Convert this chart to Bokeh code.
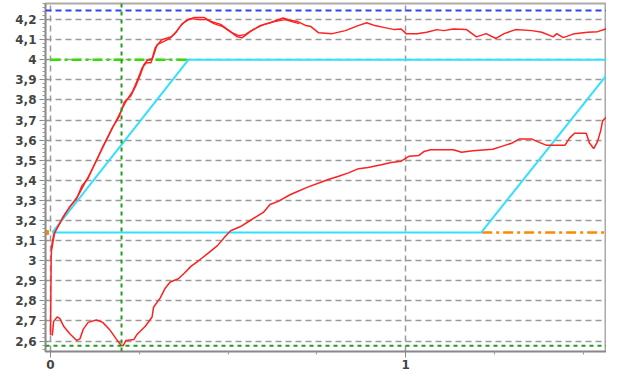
import numpy as np
from bokeh.plotting import figure
from bokeh.models import FixedTicker, Range1d, Span
from bokeh.embed import file_html
from bokeh.resources import INLINE

# ---------------- data ----------------
curve_a_x = [0.000, 0.002, 0.004, 0.009, 0.033, 0.055, 0.074, 0.088, 0.106, 0.124, 0.138, 0.157,
             0.175, 0.184, 0.194, 0.208, 0.226, 0.240, 0.253, 0.263, 0.272, 0.286, 0.295, 0.313,
             0.341, 0.355, 0.369, 0.387, 0.406, 0.433, 0.452, 0.479, 0.503, 0.526, 0.540, 0.562,
             0.590, 0.618, 0.655, 0.673, 0.696, 0.719, 0.733, 0.755, 0.793, 0.830, 0.866, 0.890,
             0.913, 0.941, 0.968, 0.987, 1.001, 1.032, 1.059, 1.088, 1.107, 1.134, 1.171, 1.199,
             1.226, 1.254, 1.277, 1.309, 1.355, 1.383, 1.415, 1.425, 1.443, 1.475, 1.512, 1.540,
             1.563, 1.572, 1.581]
curve_a_y = [2.63, 3.02, 3.08, 3.13, 3.21, 3.27, 3.31, 3.37, 3.41, 3.48, 3.53, 3.60,
             3.665, 3.69, 3.72, 3.79, 3.82, 3.87, 3.925, 3.975, 3.996, 4.005, 4.06, 4.10,
             4.115, 4.14, 4.176, 4.20, 4.21, 4.21, 4.19, 4.176, 4.145, 4.114, 4.11, 4.14,
             4.17, 4.184, 4.208, 4.197, 4.19, 4.17, 4.165, 4.134, 4.13, 4.145, 4.17, 4.184,
             4.17, 4.16, 4.15, 4.153, 4.13, 4.13, 4.137, 4.15, 4.145, 4.153, 4.15, 4.114,
             4.13, 4.106, 4.13, 4.15, 4.145, 4.137, 4.114, 4.13, 4.11, 4.13, 4.137, 4.14,
             4.153, 4.176, 4.215]

curve_a2_x = [0.004, 0.012, 0.040, 0.060, 0.080, 0.095, 0.110, 0.130, 0.145, 0.160, 0.180, 0.200,
              0.215, 0.230, 0.245, 0.258, 0.270, 0.283, 0.292, 0.300, 0.318, 0.335, 0.350, 0.362,
              0.378, 0.395, 0.420, 0.440, 0.460, 0.485, 0.510, 0.530, 0.548, 0.570, 0.600, 0.630,
              0.660, 0.680, 0.700]
curve_a2_y = [3.06, 3.14, 3.23, 3.28, 3.33, 3.38, 3.43, 3.50, 3.56, 3.61, 3.68, 3.75,
              3.80, 3.84, 3.90, 3.96, 3.985, 3.985, 4.03, 4.075, 4.09, 4.105, 4.13, 4.16,
              4.19, 4.205, 4.20, 4.20, 4.18, 4.165, 4.135, 4.12, 4.125, 4.15, 4.175, 4.19,
              4.20, 4.19, 4.18]

curve_b_x = [0.005, 0.009, 0.019, 0.026, 0.037, 0.055, 0.074, 0.083, 0.092, 0.106, 0.129, 0.147,
             0.166, 0.185, 0.198, 0.205, 0.212, 0.235, 0.244, 0.267, 0.286, 0.290, 0.309, 0.323,
             0.337, 0.360, 0.378, 0.396, 0.415, 0.443, 0.470, 0.493, 0.507, 0.535, 0.562, 0.599,
             0.618, 0.641, 0.673, 0.692, 0.724, 0.761, 0.784, 0.811, 0.839, 0.867, 0.894, 0.931,
             0.959, 0.987, 1.010, 1.037, 1.051, 1.070, 1.134, 1.157, 1.189, 1.245, 1.272, 1.300,
             1.319, 1.355, 1.374, 1.397, 1.448, 1.461, 1.475, 1.508, 1.517, 1.529, 1.540, 1.549,
             1.554, 1.568, 1.581]
curve_b_y = [2.627, 2.698, 2.72, 2.713, 2.674, 2.635, 2.603, 2.611, 2.658, 2.693, 2.705, 2.693,
             2.658, 2.611, 2.58, 2.577, 2.603, 2.608, 2.634, 2.674, 2.72, 2.768, 2.815, 2.863,
             2.894, 2.91, 2.94, 2.973, 2.997, 3.036, 3.075, 3.123, 3.149, 3.17, 3.20, 3.24,
             3.28, 3.295, 3.327, 3.342, 3.366, 3.39, 3.405, 3.42, 3.437, 3.458, 3.464, 3.477,
             3.489, 3.495, 3.52, 3.524, 3.543, 3.552, 3.552, 3.54, 3.547, 3.555, 3.57, 3.586,
             3.605, 3.605, 3.59, 3.574, 3.574, 3.61, 3.634, 3.634, 3.586, 3.558, 3.594, 3.65,
             3.696, 3.72, 3.82]

band_x = [0.005, 0.388, 1.600, 1.212, 0.005]
band_y = [3.14, 4.00, 4.00, 3.14, 3.14]

upper_limit = 4.245
target_level = 4.0
target_x = [0.0, 0.385]
lower_level = 3.14
lower_x = [1.215, 1.600]
marker_x = [-0.011]
marker_y = [3.14]
cursor_x = 0.2
cursor_y = 2.576

y_ticks = [2.6, 2.7, 2.8, 2.9, 3.0, 3.1, 3.2, 3.3, 3.4, 3.5, 3.6, 3.7, 3.8, 3.9, 4.0, 4.1, 4.2]
y_tick_labels = ["2,6", "2,7", "2,8", "2,9", "3", "3,1", "3,2", "3,3", "3,4", "3,5", "3,6",
                 "3,7", "3,8", "3,9", "4", "4,1", "4,2"]
x_ticks = [0, 1]
x_tick_labels = ["0", "1"]
x_minor = [0.25, 0.5, 0.75, 1.25, 1.5]

# ---------------- figure ----------------
p = figure(width=606, height=371, output_backend="svg", toolbar_location=None,
           x_range=Range1d(-0.014, 1.565), y_range=Range1d(2.548, 4.28),
           min_border_left=45, min_border_right=0, min_border_top=3, min_border_bottom=0)
p.background_fill_color = "white"
p.border_fill_color = "white"
p.outline_line_color = "#aaaaaa"
p.outline_line_width = 2

# axes
y_minor = [round(v, 2) for v in np.arange(2.56, 4.28, 0.02)]
p.yaxis.ticker = FixedTicker(ticks=y_ticks, minor_ticks=y_minor)
p.yaxis.major_label_overrides = {t: l for t, l in zip(y_ticks, y_tick_labels)}
p.xaxis.ticker = FixedTicker(ticks=x_ticks, minor_ticks=x_minor)
p.xaxis.major_label_overrides = {t: l for t, l in zip(x_ticks, x_tick_labels)}
for ax in (p.xaxis[0], p.yaxis[0]):
    ax.axis_line_color = "#888888"
    ax.axis_line_width = 1.5
    ax.major_tick_line_color = "#888888"
    ax.minor_tick_line_color = "#999999"
    ax.major_tick_out = 6
    ax.major_tick_in = 2
    ax.minor_tick_out = 3
    ax.minor_tick_in = 0
    ax.major_label_text_font = "DejaVu Sans"
    ax.major_label_text_font_size = "12px"
    ax.major_label_text_font_style = "bold"
    ax.major_label_text_color = "#444444"
p.yaxis.major_label_standoff = 3
p.xaxis.major_label_standoff = 2

# grids
p.ygrid.ticker = FixedTicker(ticks=y_ticks)
p.xgrid.ticker = FixedTicker(ticks=x_ticks)
for g in (p.xgrid[0], p.ygrid[0]):
    g.grid_line_color = "#9a9a9a"
    g.grid_line_dash = "6 4"
    g.grid_line_width = 1.5

# reference lines
p.add_layout(Span(location=upper_limit, dimension="width", line_color="#3344ee",
                  line_dash="6 4", line_width=2))
p.add_layout(Span(location=cursor_x, dimension="height", line_color="#229922",
                  line_dash="4 4", line_width=2))
p.add_layout(Span(location=cursor_y, dimension="width", line_color="#229922",
                  line_dash="4 4", line_width=2))

p.line(target_x, [target_level, target_level], line_color="#33dd00", line_width=2.5,
       line_dash="10 4 3 4")
p.line(lower_x, [lower_level, lower_level], line_color="#ff8800", line_width=2.5,
       line_dash="10 4 3 4")

# tolerance band
p.line(band_x, band_y, line_color="#33e0ff", line_width=2)

# curves
p.line(curve_b_x, curve_b_y, line_color="#ff2020", line_width=1.5)
p.line(curve_a2_x, curve_a2_y, line_color="#ff2020", line_width=1.3)
p.line(curve_a_x, curve_a_y, line_color="#ff2020", line_width=1.5)

p.scatter(marker_x, marker_y, marker="square", size=4, color="#ff8800")

open("out.html", "w").write(file_html(p, INLINE))
